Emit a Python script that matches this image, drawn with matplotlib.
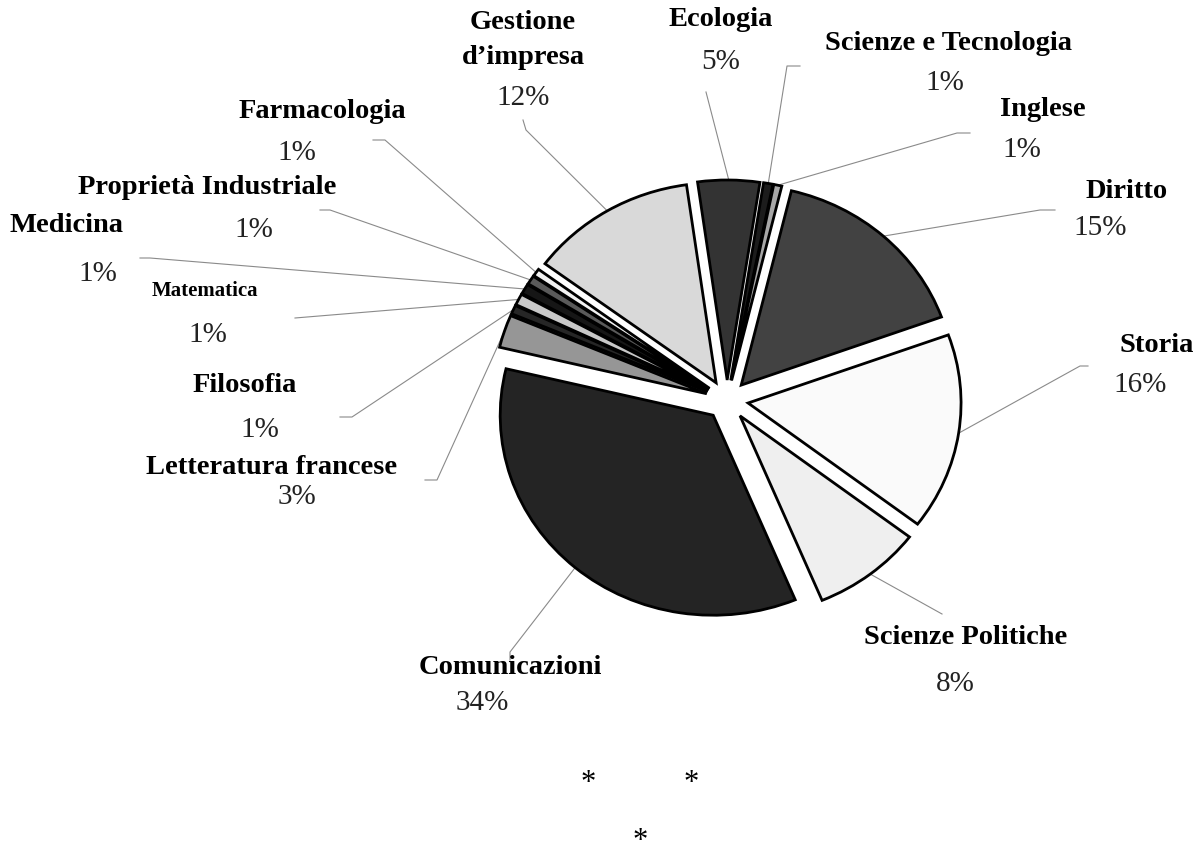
import matplotlib
matplotlib.use("Agg")
import matplotlib.pyplot as plt
import numpy as np

# ---- data ----
categories = ["Ecologia", "Scienze e Tecnologia", "Inglese", "Diritto", "Storia",
              "Scienze Politiche", "Comunicazioni", "Letteratura francese", "Filosofia",
              "Matematica", "Medicina", "Proprietà Industriale", "Farmacologia",
              "Gestione\nd’impresa"]
values = [4.6, 0.7, 0.6, 15.4, 15.6, 8.2, 34.4, 2.6, 0.7, 0.9, 0.8, 0.7, 0.6, 12.4]
colors = ["#333333", "#1c1c1c", "#a8a8a8", "#424242", "#fafafa", "#efefef", "#242424",
          "#969696", "#262626", "#c8c8c8", "#161616", "#5a5a5a", "#f2f2f2", "#d9d9d9"]

# label layout (pixel centres in the 1200x865 image): name, percent, leader anchor(s)
name_pos = [(721, 20), (948, 43), (1043, 110), (1127, 191), (1157, 345), (966, 638),
            (510, 667), (272, 467), (245, 386), (205, 291), (66, 226), (207, 188),
            (322, 112), (523, 40)]
pct_pos = [(721, 62), (945, 83), (1022, 150), (1100, 228), (1140, 385), (955, 684),
           (482, 703), (297, 497), (260, 430), (208, 335), (98, 274), (254, 230),
           (297, 153), (523, 98)]
leader_pts = [[(706, 92)], [(800, 66), (787, 66)], [(970, 133), (957, 133)],
              [(1055, 210), (1040, 210)], [(1088, 366), (1080, 366)], [(942, 614)],
              [(510, 660), (510, 652)], [(425, 480), (437, 480)],
              [(340, 417), (352, 417)], [(295, 318)], [(140, 258), (150, 258)],
              [(320, 210), (330, 210)], [(373, 140), (385, 140)],
              [(523, 120), (526, 130)]]
name_size = [20.5] * len(categories)
name_size[9] = 15

W, H = 1200, 865
CX, CY = 727, 400      # pie centre in pixels
RX, RY = 213, 200      # radius in pixels (horizontal / vertical)
EXPL = 0.1
START = 98

def to_data(px, py):
    return (px - CX) / RX, (CY - py) / RY

fig = plt.figure(figsize=(12, 8.65), dpi=100)
ax = fig.add_axes([0, 0, 1, 1])
wedges, _ = ax.pie(values, colors=colors, startangle=START, counterclock=False,
                   explode=[EXPL] * len(values), radius=1, center=(0, 0),
                   wedgeprops=dict(edgecolor="black", linewidth=2.0))
ax.set_aspect("auto")
ax.set_xlim(to_data(0, 0)[0], to_data(W, 0)[0])
ax.set_ylim(to_data(0, H)[1], to_data(0, 0)[1])
ax.axis("off")

serif = ["Liberation Serif", "DejaVu Serif"]
for i, w in enumerate(wedges):
    mid = np.deg2rad((w.theta1 + w.theta2) / 2)
    ex, ey = w.center[0] + np.cos(mid), w.center[1] + np.sin(mid)
    pts = [to_data(*p) for p in leader_pts[i]] + [(ex, ey)]
    ax.plot([p[0] for p in pts], [p[1] for p in pts], color="#8a8a8a", lw=0.8,
            zorder=0)
    nx, ny = to_data(*name_pos[i])
    ax.text(nx, ny, categories[i], ha="center", va="center", fontsize=name_size[i],
            fontweight="bold", family=serif, linespacing=1.5)
    px_, py_ = to_data(*pct_pos[i])
    ax.text(px_, py_, "%d%%" % round(values[i]), ha="center", va="center",
            fontsize=21, family=serif, color="#222222")

for (sx, sy) in [(588, 784), (691, 784), (640, 842)]:
    x, y = to_data(sx, sy)
    ax.text(x, y, "*", ha="center", va="center", fontsize=22, family=serif)

fig.savefig("out.png", dpi=100)
